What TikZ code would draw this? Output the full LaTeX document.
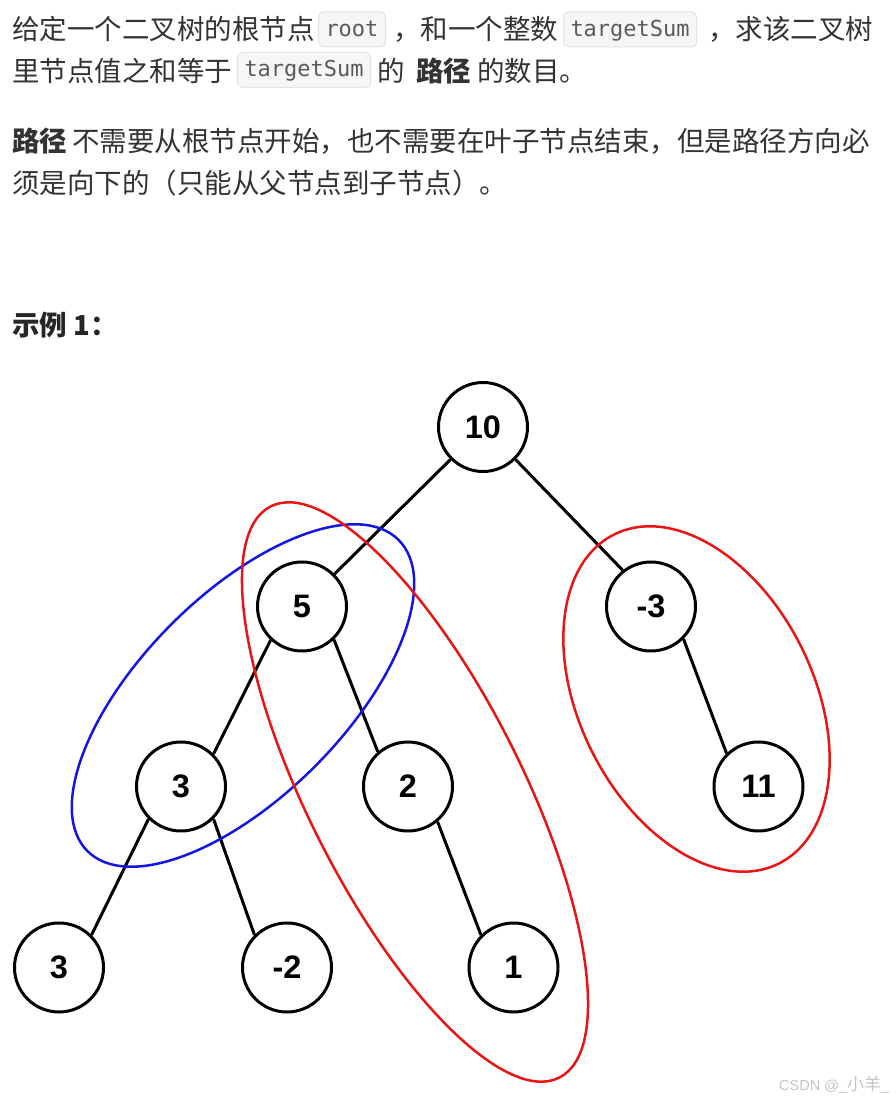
\documentclass[tikz,border=0pt]{standalone}
\usepackage{fontspec}
\setmainfont{Liberation Sans}
\newfontfamily\cjk{Noto Sans CJK SC}
\newfontfamily\monofont{DejaVu Sans Mono}
\definecolor{txtc}{HTML}{333333}
\definecolor{headc}{HTML}{262626}
\definecolor{codetxt}{HTML}{5A5A5A}
\definecolor{codebg}{HTML}{F6F6F6}
\definecolor{codeline}{HTML}{E4E4E4}
\definecolor{ellred}{HTML}{E81515}
\definecolor{ellblue}{HTML}{1515E0}
\definecolor{wmark}{HTML}{C4C4C4}
\tikzset{
  txt/.style={anchor=base west, inner sep=0pt, text=txtc, font=\cjk\fontsize{27.5}{33}\selectfont},
  txtb/.style={txt, font=\cjk\bfseries\fontsize{27.5}{33}\selectfont},
  codebox/.style={anchor=west, draw=codeline, fill=codebg, rounded corners=5pt, line width=1pt,
    text=codetxt, font=\monofont\fontsize{22}{26}\selectfont, inner xsep=7pt, inner ysep=0pt,
    minimum height=35pt, text height=18pt, text depth=4pt},
  tnode/.style={circle, draw=black, fill=white, line width=3pt, minimum size=89pt, inner sep=0pt,
    font=\bfseries\fontsize{32.5}{36}\selectfont},
  tedge/.style={draw=black, line width=3pt},
  ell/.style={line width=2.5pt}
}
\begin{document}
\begin{tikzpicture}[x=1pt,y=1pt]
\useasboundingbox (0,0) rectangle (896,1101);
\fill[white] (0,0) rectangle (896,1101);

% paragraph 1
\node[txt] (l1a) at (12,1061) {给定一个二叉树的根节点};
\node[codebox] (c1) at (318,1071.5) {root};
\node[txt] (l1b) at (393,1061) {，和一个整数};
\node[codebox] (c2) at (563,1071.5) {targetSum};
\node[txt] (l1c) at (708,1061) {，求该二叉树};

\node[txt] (l2a) at (12,1019) {里节点值之和等于};
\node[codebox] (c3) at (237,1031) {targetSum};
\node[txt] (l2b) at (377,1019) {的};
\node[txtb] (l2c) at (416,1019) {路径};
\node[txt] (l2d) at (477,1019) {的数目。};

% paragraph 2
\node[txtb] (p2a) at (12,949) {路径};
\node[txt] (p2b) at (72,949) {不需要从根节点开始，也不需要在叶子节点结束，但是路径方向必};
\node[txt] (p2c) at (12,907) {须是向下的（只能从父节点到子节点）。};

% example heading
\node[txtb, text=headc] (ex) at (12,765) {示例 1：};

% tree
\node[tnode] (n10) at (483,674) {10};
\node[tnode] (n5) at (302,494.5) {5};
\node[tnode] (nm3) at (651,494.5) {-3};
\node[tnode] (n3) at (181,314.5) {3};
\node[tnode] (n2) at (408,314.5) {2};
\node[tnode] (n11) at (758.5,314.5) {11};
\node[tnode] (n3b) at (59,133.5) {3};
\node[tnode] (nm2) at (287,133.5) {-2};
\node[tnode] (n1) at (513.5,133.5) {1};

\draw[tedge] (n10.-135) -- (n5.45);
\draw[tedge] (n10.-45) -- (nm3.128);
\draw[tedge] (n5.-133) -- (n3.45);
\draw[tedge] (n5.-46) -- (n2.131);
\draw[tedge] (nm3.-45) -- (n11.134);
\draw[tedge] (n3.-135) -- (n3b.45);
\draw[tedge] (n3.-45) -- (nm2.135);
\draw[tedge] (n2.-50) -- (n1.135);

% path ellipses
\draw[ell, ellblue, rotate around={45:(243,405.5)}] (243,405.5) ellipse[x radius=220pt, y radius=101pt];
\draw[ell, ellred, rotate around={-63.2:(415,309)}] (415,309) ellipse[x radius=320pt, y radius=107pt];
\draw[ell, ellred, rotate around={-63.4:(696.5,402)}] (696.5,402) ellipse[x radius=184pt, y radius=117pt];

% watermark
\node[anchor=base west, inner sep=0pt, text=wmark, font=\fontsize{14.5}{17}\selectfont] (wm) at (779,10) {CSDN @\_{\cjk\fontsize{17}{19}\selectfont 小羊}\_};
\end{tikzpicture}
\end{document}
